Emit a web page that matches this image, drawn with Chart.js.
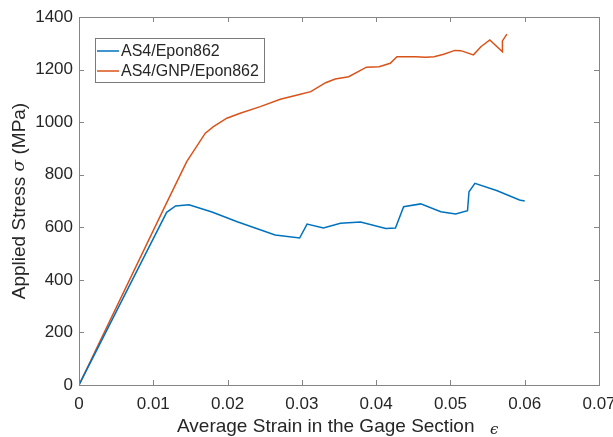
<!DOCTYPE html>
<html>
<head>
<meta charset="utf-8">
<script src="https://cdn.jsdelivr.net/npm/chart.js@4"></script>
<style>
  html, body { margin: 0; padding: 0; background: #fff; }
  #wrap { width: 613px; height: 437px; }
</style>
</head>
<body>
<div id="wrap"><canvas id="graph" width="613" height="437"></canvas></div>
<script>
// strain values and stress (MPa)
const epoxyStrain = [0, 0.0118, 0.0130, 0.0148, 0.0179, 0.0213, 0.0264, 0.0297, 0.0307, 0.0329, 0.0352, 0.0379, 0.0413, 0.0426, 0.0437, 0.0460, 0.0487, 0.0507, 0.0523, 0.0525, 0.0533, 0.0563, 0.0593, 0.0600];
const epoxyStress = [0, 657, 681, 686, 658, 621, 571, 559, 612, 597, 615, 620, 595, 597, 678, 689, 659, 651, 663, 735, 767, 739, 704, 700];

const gnpStrain = [0, 0.0114, 0.0145, 0.0170, 0.0181, 0.0199, 0.0217, 0.0244, 0.0271, 0.0298, 0.0312, 0.0332, 0.0345, 0.0363, 0.0387, 0.0404, 0.0419, 0.0428, 0.0453, 0.0467, 0.0478, 0.0491, 0.0506, 0.0514, 0.0531, 0.0541, 0.0553, 0.0570, 0.0570, 0.0576];
const gnpStress = [0, 670, 850, 958, 983, 1015, 1034, 1059, 1087, 1106, 1116, 1150, 1164, 1173, 1209, 1211, 1224, 1249, 1249, 1247, 1249, 1258, 1273, 1272, 1256, 1287, 1313, 1268, 1309, 1335];

const xTicks = [0, 0.01, 0.02, 0.03, 0.04, 0.05, 0.06, 0.07];
const yTicks = [0, 200, 400, 600, 800, 1000, 1200, 1400];
const seriesNames = ["AS4/Epon862", "AS4/GNP/Epon862"];
const seriesColors = ["#0072BD", "#D95319"];

const toPoints = (xs, ys) => xs.map((x, i) => ({ x: x, y: ys[i] }));

const FONT = "Arial, 'Liberation Sans', Helvetica, sans-serif";
const AXIS_COLOR = "#858585";
const TEXT_COLOR = "#262626";

// MATLAB-ish box: frame, inward ticks on all four sides, legend, axis titles
const matlabBox = {
  id: "matlabBox",
  afterDraw(chart) {
    const ctx = chart.ctx;
    const a = chart.chartArea;
    const xs = chart.scales.x;
    const ys = chart.scales.y;
    ctx.save();
    ctx.strokeStyle = AXIS_COLOR;
    ctx.lineWidth = 1;
    ctx.strokeRect(a.left + 0.5, a.top + 0.5, a.right - a.left, a.bottom - a.top);
    const tl = 5;
    xTicks.forEach((t) => {
      const px = Math.round(xs.getPixelForValue(t)) + 0.5;
      ctx.beginPath();
      ctx.moveTo(px, a.bottom); ctx.lineTo(px, a.bottom - tl);
      ctx.moveTo(px, a.top); ctx.lineTo(px, a.top + tl);
      ctx.stroke();
    });
    yTicks.forEach((t) => {
      const py = Math.round(ys.getPixelForValue(t)) + 0.5;
      ctx.beginPath();
      ctx.moveTo(a.left, py); ctx.lineTo(a.left + tl, py);
      ctx.moveTo(a.right, py); ctx.lineTo(a.right - tl, py);
      ctx.stroke();
    });

    // legend
    const lx = 95, ly = 38, lw = 169, lh = 44;
    ctx.fillStyle = "#fff";
    ctx.fillRect(lx, ly, lw, lh);
    ctx.strokeStyle = "#7a7a7a";
    ctx.strokeRect(lx + 0.5, ly + 0.5, lw, lh);
    ctx.font = "16px " + FONT;
    ctx.textBaseline = "middle";
    ctx.textAlign = "left";
    seriesNames.forEach((name, i) => {
      const yy = ly + 13 + i * 20;
      ctx.strokeStyle = seriesColors[i];
      ctx.lineWidth = 1.5;
      ctx.beginPath();
      ctx.moveTo(lx + 2, yy); ctx.lineTo(lx + 24, yy);
      ctx.stroke();
      ctx.fillStyle = TEXT_COLOR;
      ctx.fillText(name, lx + 26, yy + 1);
    });

    // x title
    ctx.fillStyle = TEXT_COLOR;
    ctx.font = "19px " + FONT;
    ctx.textAlign = "left";
    ctx.textBaseline = "middle";
    ctx.fillText("Average Strain in the Gage Section", 177, 427);
    ctx.font = "italic 15px 'DejaVu Serif', serif";
    ctx.fillText("\u03F5", 490, 430);

    // y title
    ctx.translate(20, 201);
    ctx.rotate(-Math.PI / 2);
    const p1 = "Applied Stress ";
    const p3 = " (MPa)";
    ctx.font = "19px " + FONT;
    const w1 = ctx.measureText(p1).width;
    const w3 = ctx.measureText(p3).width;
    ctx.font = "italic 17px 'DejaVu Serif', serif";
    const w2 = ctx.measureText("\u03C3").width;
    const x0 = -(w1 + w2 + w3) / 2;
    ctx.textAlign = "left";
    ctx.font = "19px " + FONT;
    ctx.fillText(p1, x0, 0);
    ctx.font = "italic 17px 'DejaVu Serif', serif";
    ctx.fillText("\u03C3", x0 + w1, 0);
    ctx.font = "19px " + FONT;
    ctx.fillText(p3, x0 + w1 + w2, 0);
    ctx.restore();
  },
};

const config = {
  type: "scatter",
  data: {
    datasets: [
      {
        label: seriesNames[0],
        data: toPoints(epoxyStrain, epoxyStress),
        borderColor: seriesColors[0],
        showLine: true,
        borderWidth: 1.5,
        pointRadius: 0,
        tension: 0,
      },
      {
        label: seriesNames[1],
        data: toPoints(gnpStrain, gnpStress),
        borderColor: seriesColors[1],
        showLine: true,
        borderWidth: 1.5,
        pointRadius: 0,
        tension: 0,
      },
    ],
  },
  options: {
    responsive: false,
    animation: false,
    layout: { padding: { top: 17, right: 14, left: 0, bottom: 0 } },
    plugins: {
      legend: { display: false },
      tooltip: { enabled: false },
    },
    scales: {
      x: {
        type: "linear",
        min: 0,
        max: 0.07,
        grid: { display: false, drawTicks: false },
        border: { display: false },
        afterBuildTicks: (s) => { s.ticks = xTicks.map((v) => ({ value: v })); },
        afterFit: (s) => { s.height = 52; s.paddingLeft = 0; s.paddingRight = 0; },
        ticks: {
          color: TEXT_COLOR,
          font: { family: FONT, size: 17 },
          padding: 9,
          maxRotation: 0,
          callback: (v) => String(v),
        },
      },
      y: {
        type: "linear",
        min: 0,
        max: 1400,
        grid: { display: false, drawTicks: false },
        border: { display: false },
        afterBuildTicks: (s) => { s.ticks = yTicks.map((v) => ({ value: v })); },
        afterFit: (s) => { s.width = 79; s.paddingTop = 0; s.paddingBottom = 0; },
        ticks: {
          color: TEXT_COLOR,
          font: { family: FONT, size: 17 },
          padding: 6,
          callback: (v) => String(v),
        },
      },
    },
  },
  plugins: [matlabBox],
};

new Chart(document.getElementById("graph"), config);
</script>
</body>
</html>
